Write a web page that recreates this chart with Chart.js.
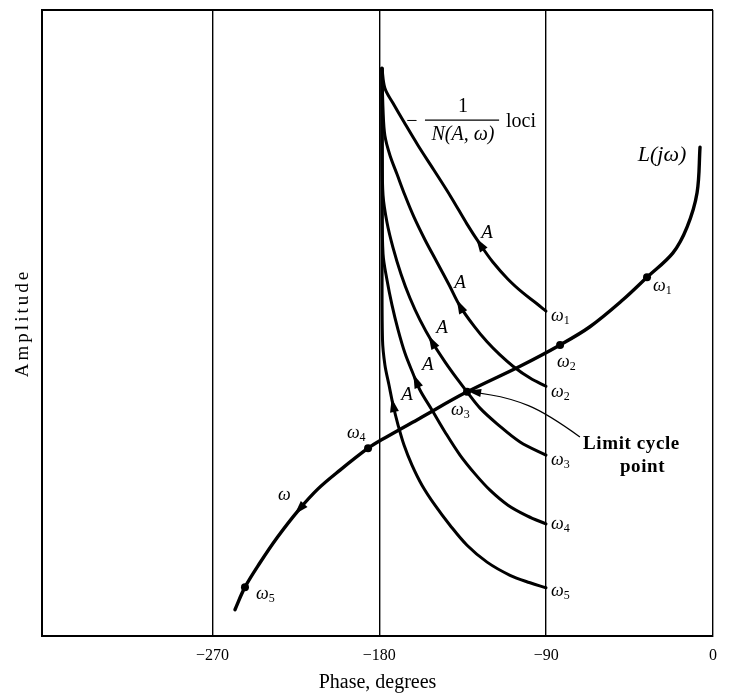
<!DOCTYPE html>
<html>
<head>
<meta charset="utf-8">
<script src="https://cdn.jsdelivr.net/npm/chart.js@4"></script>
<style>
html,body{margin:0;padding:0;background:#fff;}
canvas{display:block;}
</style>
</head>
<body>
<canvas id="c" width="730" height="695"></canvas>
<script>
// ---- data (phase in degrees, amplitude in arbitrary units 0..100) ----
const xTicks = [-270, -180, -90, 0];

// L(jw) locus, from the top-right end toward the bottom-left end
const lPhase = [-7.0, -8.6, -14.0, -21.6, -35.6, -48.6, -66.4, -82.5, -104.1, -132.7, -158.1, -179.1, -186.1, -201.2, -213.1, -223.9, -235.2, -244.4, -252.5, -257.9];
const lAmp   = [78.1, 70.8, 65.3, 61.2, 57.3, 53.7, 49.4, 46.5, 43.1, 39.0, 34.8, 31.3, 30.0, 26.5, 23.5, 20.0, 15.7, 11.7, 7.8, 4.2];

// marked frequencies on L(jw): w1..w5
const omegaPhase = [-35.6, -82.5, -132.7, -186.1, -252.5];
const omegaAmp   = [57.3, 46.5, 39.0, 30.0, 7.8];

// -1/N(A,w) loci, one per frequency, from large A (top, near -180) to small A (-90)
const locus1Phase = [-178.6, -177.0, -172.6, -166.7, -159.2, -150.5, -141.3, -132.7, -125.7, -118.7, -110.6, -102.5, -95.5, -90.1];
const locus1Amp   = [90.7, 87.5, 85.1, 82.1, 78.4, 74.4, 70.1, 65.8, 62.6, 59.7, 57.0, 54.8, 53.2, 51.9];
const locus2Phase = [-178.6, -178.0, -177.0, -174.3, -170.5, -166.2, -161.3, -155.4, -148.9, -142.4, -136.5, -128.9, -121.9, -114.9, -107.9, -98.7, -90.1];
const locus2Amp   = [90.7, 84.0, 79.9, 76.8, 73.8, 70.4, 66.9, 63.3, 59.7, 56.1, 52.7, 49.5, 47.0, 44.9, 43.1, 41.2, 39.9];
const locus3Phase = [-178.6, -178.5, -178.0, -175.9, -172.6, -168.3, -163.5, -158.1, -151.6, -144.6, -137.6, -132.7, -125.7, -116.5, -104.1, -90.1];
const locus3Amp   = [90.7, 77.6, 70.4, 66.1, 62.0, 57.8, 54.0, 50.5, 47.0, 43.8, 40.9, 39.0, 36.4, 33.9, 31.0, 28.9];
const locus4Phase = [-178.6, -178.5, -178.0, -175.9, -173.2, -169.9, -166.2, -161.8, -158.1, -151.6, -144.6, -136.5, -128.4, -120.3, -110.6, -100.3, -90.1];
const locus4Amp   = [90.7, 69.6, 61.0, 56.9, 52.9, 48.9, 45.2, 41.9, 39.3, 36.1, 32.6, 28.9, 25.9, 23.3, 20.9, 19.2, 17.9];
const locus5Phase = [-178.6, -178.5, -178.3, -177.0, -174.8, -172.6, -169.9, -166.7, -162.4, -157.0, -150.0, -141.9, -132.7, -121.9, -109.5, -98.7, -90.1];
const locus5Amp   = [90.7, 61.7, 47.3, 43.3, 40.1, 36.9, 33.7, 30.5, 27.3, 24.1, 20.9, 17.7, 14.5, 11.8, 9.7, 8.5, 7.7];

const zip = (xs, ys) => xs.map((v, i) => ({x: v, y: ys[i]}));

// ---- annotation layout (data coordinates) ----
const FONT = "'Liberation Serif', 'DejaVu Serif', serif";
const omegaLabels = [
  {x: -32.4, y: 55.9, sub: '1'}, {x: -84.2, y: 43.8, sub: '2'}, {x: -141.3, y: 36.1, sub: '3'},
  {x: -197.5, y: 32.4, sub: '4'}, {x: -246.5, y: 6.7, sub: '5'}, {x: -234.7, y: 22.5, sub: ''},
  {x: -87.4, y: 51.1, sub: '1'}, {x: -87.4, y: 39.0, sub: '2'}, {x: -87.4, y: 28.1, sub: '3'},
  {x: -87.4, y: 17.9, sub: '4'}, {x: -87.4, y: 7.2, sub: '5'}
];
const aLabels = [[-121.9, 64.4], [-136.5, 56.4], [-146.2, 49.2], [-153.8, 43.3], [-165.1, 38.5]];
const arrowMarks = [
  {ds: 1, x: -125.7, y: 62.6, fwd: false}, {ds: 2, x: -136.5, y: 52.7, fwd: false},
  {ds: 3, x: -151.6, y: 47.0, fwd: false}, {ds: 4, x: -159.2, y: 40.9, fwd: false},
  {ds: 5, x: -172.6, y: 36.9, fwd: false}, {ds: 0, x: -225.5, y: 20.9, fwd: true}
];
const limitPath = [[-71.8, 31.8], [-89.6, 35.6], [-109.5, 38.0], [-130.0, 39.0]];

function drawTri(ctx, px, py, dx, dy, len, hw) {
  const nx = -dy, ny = dx;
  const tx = px + dx * len * 0.5, ty = py + dy * len * 0.5;
  const bx = px - dx * len * 0.5, by = py - dy * len * 0.5;
  ctx.beginPath();
  ctx.moveTo(tx, ty);
  ctx.lineTo(bx + nx * hw, by + ny * hw);
  ctx.lineTo(bx - nx * hw, by - ny * hw);
  ctx.closePath();
  ctx.fill();
}

function drawOmega(ctx, px, py, sub) {
  ctx.textAlign = 'left';
  ctx.textBaseline = 'middle';
  ctx.font = 'italic 18px ' + FONT;
  ctx.fillText('ω', px, py);
  const w = ctx.measureText('ω').width;
  if (sub) {
    ctx.font = '12px ' + FONT;
    ctx.fillText(sub, px + w, py + 5);
  }
}

const annot = {
  id: 'annot',
  afterDatasetsDraw(chart) {
    const {ctx, chartArea: a} = chart;
    const xs = chart.scales.x, ys = chart.scales.y;
    const X = v => xs.getPixelForValue(v), Y = v => ys.getPixelForValue(v);
    ctx.save();
    ctx.fillStyle = '#000';
    ctx.strokeStyle = '#000';
    // top frame line
    ctx.lineWidth = 2;
    ctx.beginPath(); ctx.moveTo(a.left, a.top); ctx.lineTo(a.right, a.top); ctx.stroke();

    // direction arrows on curves
    arrowMarks.forEach(m => {
      const pts = chart.getDatasetMeta(m.ds).data;
      const px = X(m.x), py = Y(m.y);
      let best = null, bd = Infinity;
      for (let i = 0; i < pts.length - 1; i++) {
        const ax = pts[i].x, ay = pts[i].y, bx = pts[i + 1].x, by = pts[i + 1].y;
        const vx = bx - ax, vy = by - ay, L2 = vx * vx + vy * vy || 1;
        let t = ((px - ax) * vx + (py - ay) * vy) / L2;
        t = Math.max(0, Math.min(1, t));
        const qx = ax + t * vx, qy = ay + t * vy;
        const d = (qx - px) ** 2 + (qy - py) ** 2;
        if (d < bd) { bd = d; best = {qx, qy, vx, vy}; }
      }
      const L = Math.hypot(best.vx, best.vy);
      let dx = best.vx / L, dy = best.vy / L;
      if (!m.fwd) { dx = -dx; dy = -dy; }
      drawTri(ctx, best.qx, best.qy, dx, dy, 14, 4.5);
    });

    // labels
    ctx.fillStyle = '#000';
    omegaLabels.forEach(l => drawOmega(ctx, X(l.x), Y(l.y), l.sub));
    ctx.font = 'italic 19px ' + FONT;
    ctx.textAlign = 'center'; ctx.textBaseline = 'middle';
    aLabels.forEach(p => ctx.fillText('A', X(p[0]), Y(p[1])));

    // L(jw)
    ctx.font = 'italic 22px ' + FONT;
    ctx.fillText('L(jω)', X(-27.5), Y(76.8));

    // -1/N(A,w) loci
    ctx.font = '20px ' + FONT;
    ctx.fillText('−', X(-162.4), Y(82.1));
    ctx.fillText('1', X(-134.9), Y(84.5));
    ctx.font = 'italic 20px ' + FONT;
    ctx.fillText('N(A, ω)', X(-134.9), Y(80.0));
    ctx.lineWidth = 1.3;
    ctx.beginPath(); ctx.moveTo(X(-155.4), Y(82.4)); ctx.lineTo(X(-115.4), Y(82.4)); ctx.stroke();
    ctx.font = '20px ' + FONT;
    ctx.textAlign = 'left';
    ctx.fillText('loci', X(-111.7), Y(82.1));

    // Limit cycle point
    ctx.font = 'bold 19px ' + FONT;
    if ('letterSpacing' in ctx) ctx.letterSpacing = '0.6px';
    ctx.fillText('Limit cycle', X(-70.1), Y(30.7));
    ctx.fillText('point', X(-50.2), Y(27.0));
    if ('letterSpacing' in ctx) ctx.letterSpacing = '0px';

    // annotation curve
    ctx.lineWidth = 1.2;
    const P = limitPath.map(p => [X(p[0]), Y(p[1])]);
    ctx.beginPath();
    ctx.moveTo(P[0][0], P[0][1]);
    for (let i = 1; i < P.length - 1; i++) {
      const mx = (P[i][0] + P[i + 1][0]) / 2, my = (P[i][1] + P[i + 1][1]) / 2;
      ctx.quadraticCurveTo(P[i][0], P[i][1], mx, my);
    }
    ctx.lineTo(P[P.length - 1][0], P[P.length - 1][1]);
    ctx.stroke();
    const e = P[P.length - 1], s = P[P.length - 2];
    const dl = Math.hypot(e[0] - s[0], e[1] - s[1]);
    drawTri(ctx, e[0] + 2, e[1], (e[0] - s[0]) / dl, (e[1] - s[1]) / dl, 14, 4);

    // y-axis title (spaced letters as in the original)
    ctx.translate(23, (a.top + a.bottom) / 2);
    ctx.rotate(-Math.PI / 2);
    ctx.font = '19px ' + FONT;
    ctx.textAlign = 'center';
    ctx.textBaseline = 'middle';
    if ('letterSpacing' in ctx) ctx.letterSpacing = '3px';
    ctx.fillText('Amplitude', 0, 0);
    ctx.restore();
  }
};

const lineDs = (pts, w) => ({data: pts, showLine: true, borderColor: '#000', borderWidth: w,
  pointRadius: 0, tension: 0.35, fill: false, borderCapStyle: 'round', borderJoinStyle: 'round'});

new Chart(document.getElementById('c'), {
  type: 'scatter',
  data: {
    datasets: [
      lineDs(zip(lPhase, lAmp), 3.4),
      lineDs(zip(locus1Phase, locus1Amp), 3),
      lineDs(zip(locus2Phase, locus2Amp), 3),
      lineDs(zip(locus3Phase, locus3Amp), 3),
      lineDs(zip(locus4Phase, locus4Amp), 3),
      lineDs(zip(locus5Phase, locus5Amp), 3),
      {data: zip(omegaPhase, omegaAmp), showLine: false, pointRadius: 4, pointBackgroundColor: '#000',
       pointBorderColor: '#000', pointBorderWidth: 0}
    ]
  },
  options: {
    responsive: false,
    animation: false,
    events: [],
    layout: {padding: {top: 10, right: 17, left: 0, bottom: 0}},
    plugins: {legend: {display: false}, tooltip: {enabled: false}},
    scales: {
      x: {
        type: 'linear', min: -362, max: 0,
        afterBuildTicks: s => { s.ticks = xTicks.map(v => ({value: v})); },
        afterFit: s => { s.height = 59; },
        grid: {color: '#000', lineWidth: 1.4, drawTicks: false},
        border: {color: '#000', width: 2},
        ticks: {padding: 10, color: '#000', font: {family: FONT, size: 16},
                callback: v => v < 0 ? '−' + Math.abs(v) : String(v), maxRotation: 0},
        title: {display: true, text: 'Phase, degrees', color: '#000', font: {family: FONT, size: 20},
                padding: {top: 4, bottom: 0}}
      },
      y: {
        type: 'linear', min: 0, max: 100,
        afterFit: s => { s.width = 42; },
        grid: {display: false, drawTicks: false},
        border: {color: '#000', width: 2},
        ticks: {display: false},
        title: {display: false}
      }
    }
  },
  plugins: [annot]
});
</script>
</body>
</html>
